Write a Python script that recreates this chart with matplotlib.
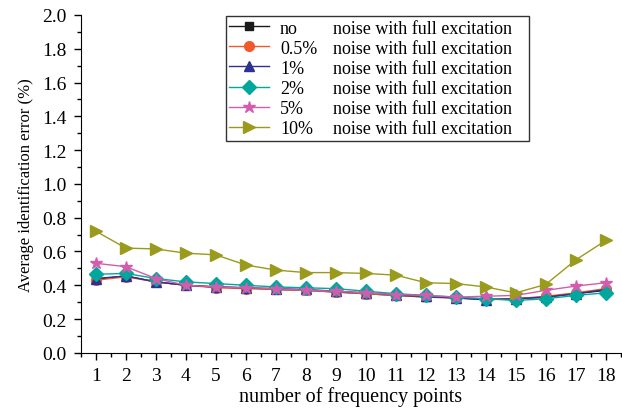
import matplotlib.pyplot as plt
from matplotlib.lines import Line2D
from matplotlib.ticker import MultipleLocator

plt.rcParams['font.family'] = ['Liberation Serif', 'DejaVu Serif']

points = list(range(1, 19))

err_none = [0.435, 0.455, 0.42, 0.40, 0.39, 0.385, 0.375, 0.37, 0.36, 0.35, 0.34, 0.33, 0.325, 0.315, 0.32, 0.33, 0.35, 0.37]
err_05 = [0.43, 0.45, 0.42, 0.40, 0.385, 0.38, 0.375, 0.37, 0.36, 0.35, 0.34, 0.335, 0.325, 0.32, 0.32, 0.335, 0.355, 0.38]
err_1 = [0.44, 0.455, 0.42, 0.40, 0.39, 0.385, 0.38, 0.375, 0.365, 0.355, 0.345, 0.335, 0.325, 0.315, 0.32, 0.33, 0.35, 0.375]
err_2 = [0.465, 0.47, 0.44, 0.42, 0.41, 0.40, 0.39, 0.385, 0.38, 0.365, 0.35, 0.34, 0.33, 0.32, 0.31, 0.32, 0.34, 0.355]
err_5 = [0.53, 0.51, 0.44, 0.40, 0.39, 0.385, 0.38, 0.37, 0.365, 0.355, 0.345, 0.34, 0.33, 0.335, 0.34, 0.37, 0.395, 0.415]
err_10 = [0.72, 0.62, 0.615, 0.59, 0.58, 0.52, 0.49, 0.475, 0.475, 0.47, 0.46, 0.415, 0.41, 0.39, 0.355, 0.405, 0.55, 0.665]

levels = ['no', '0.5%', '1%', '2%', '5%', '10%']
series = [err_none, err_05, err_1, err_2, err_5, err_10]
colors = ['#1a1a1a', '#f05a2a', '#2e3192', '#00a79d', '#d35cae', '#9a9a1c']
markers = ['s', 'o', '^', 'D', '*', '>']
sizes = [6, 7, 7, 7, 9, 9]

fig = plt.figure(figsize=(6.22, 4.10), dpi=100)
ax = fig.add_axes([0.130, 0.137, 0.868, 0.824])

handles = []
for y, c, m, s in zip(series, colors, markers, sizes):
    h, = ax.plot(points, y, color=c, marker=m, markersize=s, lw=1.0,
                 markeredgecolor=c)
    handles.append(h)

ax.set_xlim(0.5, 18.5)
ax.set_ylim(0, 2.0)
ax.set_xticks(points)
ax.xaxis.set_minor_locator(MultipleLocator(0.5))
ax.yaxis.set_major_locator(MultipleLocator(0.2))
ax.yaxis.set_minor_locator(MultipleLocator(0.1))
ax.yaxis.set_major_formatter(lambda v, p: f'{v:.1f}')
ax.tick_params(which='major', direction='out', length=5, width=1, labelsize=14, pad=5)
ax.tick_params(which='minor', direction='out', length=3, width=1)
ax.spines['top'].set_visible(False)
ax.spines['right'].set_visible(False)

ax.set_xlabel('number of frequency points', fontsize=14.5, labelpad=2)
ax.set_ylabel('Average identification error (%)', fontsize=12, labelpad=6)

# second legend column holds the shared description text
blank = Line2D([], [], linestyle='none')
leg_handles = handles + [blank] * 6
leg_labels = levels + ['noise with full excitation   '] * 6
ax.legend(leg_handles, leg_labels, ncol=2, loc='upper left',
          bbox_to_anchor=(0.2685, 0.997), borderaxespad=0, fontsize=13,
          frameon=True, fancybox=False, edgecolor='#333333', framealpha=1,
          handlelength=2.2, handletextpad=0.6, columnspacing=-1.93,
          labelspacing=0.17, borderpad=0.2)

fig.savefig('out.png', dpi=100)
